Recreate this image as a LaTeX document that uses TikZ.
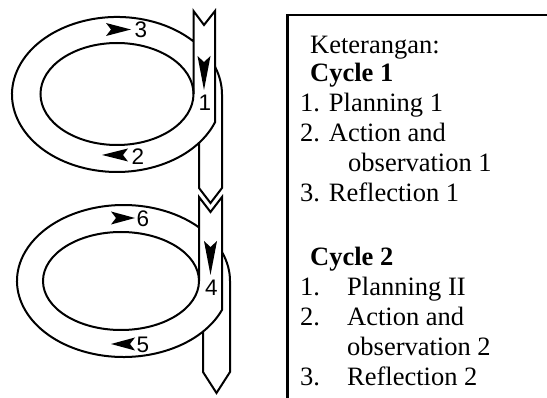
\documentclass[tikz,border=0pt]{standalone}
\usepackage{fontspec}
\setmainfont{Liberation Serif}
\newfontfamily\digitfont{Liberation Sans}
\begin{document}
\begin{tikzpicture}[x=1pt,y=1pt,yscale=-1,
  ribbon/.style={line width=2pt, line join=miter},
  tipfill/.style={fill=black},
  lbl/.style={font=\digitfont\fontsize{22.5}{22.5}\selectfont, inner sep=0pt},
  txt/.style={font=\fontsize{26.5}{30}\selectfont, inner sep=0pt, anchor=base west},
  frame/.style={line width=2.6pt}]
\useasboundingbox (0,0) rectangle (547,398);

% ---------- Cycle 1 ----------
\draw[ribbon] (117,94) ellipse [x radius=76.5, y radius=51];
\draw[ribbon] (193.5,94) -- (193.5,11) -- (204,25) -- (215,11) -- (215,122.3)
  arc[start angle=21.04, end angle=316.4, x radius=105, y radius=77.5];
\draw[ribbon] (215,66.7) arc[start angle=-21.04, end angle=0, x radius=105, y radius=77.5]
  -- (222,188) -- (210.5,203) -- (199,188) -- (199,142.9);

\fill[tipfill] (131,29.5) -- (106,23) -- (111,29.5) -- (106,36) -- cycle;
\fill[tipfill] (102,155) -- (128,148.5) -- (123,155) -- (128,161.5) -- cycle;
\fill[tipfill] (204,90) -- (197.5,56) -- (204,62) -- (210.5,56) -- cycle;
\node[lbl] (d3) at (141,30) {3};
\node[lbl] (d2) at (138,157) {2};
\node[lbl] (d1) at (205,102.5) {1};

% ---------- Cycle 2 ----------
\draw[ribbon] (121,281) ellipse [x radius=78, y radius=49];
\draw[ribbon] (199,281) -- (199,197) -- (210.5,212) -- (222,197) -- (222,309.9)
  arc[start angle=22.35, end angle=315.15, x radius=106.5, y radius=76];
\draw[ribbon] (222,252.1) arc[start angle=-22.35, end angle=0, x radius=106.5, y radius=76]
  -- (230,372) -- (216.5,393) -- (203,372) -- (203,331.6);

\fill[tipfill] (135,218) -- (111,211.5) -- (116,218) -- (111,224.5) -- cycle;
\fill[tipfill] (111,344) -- (135,337.5) -- (130,344) -- (135,350.5) -- cycle;
\fill[tipfill] (210.5,275) -- (204,241) -- (210.5,247) -- (217,241) -- cycle;
\node[lbl] (d6) at (143,219) {6};
\node[lbl] (d5) at (143,345) {5};
\node[lbl] (d4) at (211.5,288) {4};

% ---------- Legend ----------
\draw[frame] (287.5,398) -- (287.5,15) -- (547,15);
\node[txt] (k)  at (310,54)  {Keterangan:};
\node[txt] (c1) at (310,82)  {\bfseries Cycle 1};
\node[txt] (a1) at (300,112) {1. Planning 1};
\node[txt] (a2) at (300,142) {2. Action and};
\node[txt] (a2b) at (348,172) {observation 1};
\node[txt] (a3) at (300,202) {3. Reflection 1};
\node[txt] (c2) at (310,266) {\bfseries Cycle 2};
\node[txt] (b1n) at (300,296) {1.};
\node[txt] (b1) at (347,296) {Planning II};
\node[txt] (b2n) at (300,326) {2.};
\node[txt] (b2) at (347,326) {Action and};
\node[txt] (b2b) at (347,356) {observation 2};
\node[txt] (b3n) at (300,386) {3.};
\node[txt] (b3) at (347,386) {Reflection 2};
\end{tikzpicture}
\end{document}
